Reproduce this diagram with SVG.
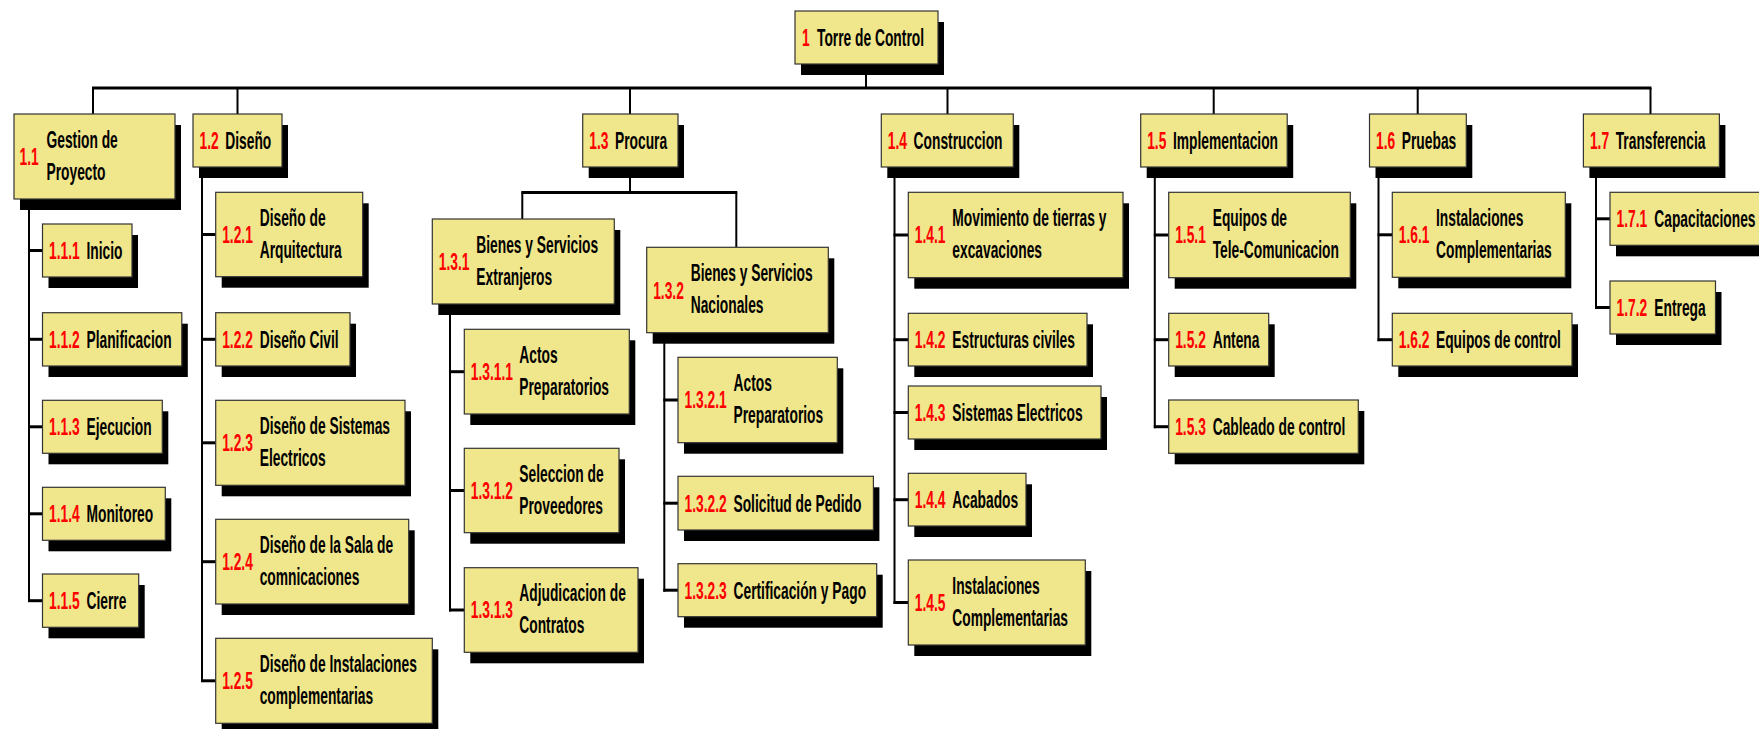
<svg xmlns="http://www.w3.org/2000/svg" width="1759" height="729" viewBox="0 0 1759 729">
  <style>
    .bx { fill: #F0E68C; stroke: #333; stroke-width: 1.2; }
    .sh { fill: #000; }
    .num { font-family: "Liberation Sans", Arial, sans-serif; font-size: 23px; font-weight: bold; fill: #FF0000; }
    .lbl { font-family: "Liberation Sans", Arial, sans-serif; font-size: 23px; font-weight: bold; fill: #000; }
    .h { stroke: #000; stroke-width: 3; fill: none; }
    .v { stroke: #000; stroke-width: 2; fill: none; }
  </style>

  <!-- connectors -->
  <g id="connectors">
    <!-- root to level 1 -->
    <line class="v" x1="866" y1="64" x2="866" y2="88"/>
    <line class="h" x1="92" y1="88" x2="1651.5" y2="88"/>
    <line class="v" x1="93" y1="88" x2="93" y2="114"/>
    <line class="v" x1="237.5" y1="88" x2="237.5" y2="114"/>
    <line class="v" x1="630" y1="88" x2="630" y2="114"/>
    <line class="v" x1="947.5" y1="88" x2="947.5" y2="114"/>
    <line class="v" x1="1213.7" y1="88" x2="1213.7" y2="114"/>
    <line class="v" x1="1417.7" y1="88" x2="1417.7" y2="114"/>
    <line class="v" x1="1650.5" y1="88" x2="1650.5" y2="114"/>

    <!-- 1.1 -->
    <line class="v" x1="29" y1="199" x2="29" y2="602"/>
    <line class="h" x1="28" y1="250.5" x2="42.5" y2="250.5"/>
    <line class="h" x1="28" y1="339.3" x2="42.5" y2="339.3"/>
    <line class="h" x1="28" y1="426.8" x2="42.5" y2="426.8"/>
    <line class="h" x1="28" y1="513.8" x2="42.5" y2="513.8"/>
    <line class="h" x1="28" y1="600.7" x2="42.5" y2="600.7"/>

    <!-- 1.2 -->
    <line class="v" x1="202" y1="167" x2="202" y2="682"/>
    <line class="h" x1="201" y1="234.5" x2="215.7" y2="234.5"/>
    <line class="h" x1="201" y1="339.3" x2="215.7" y2="339.3"/>
    <line class="h" x1="201" y1="442.8" x2="215.7" y2="442.8"/>
    <line class="h" x1="201" y1="561.7" x2="215.7" y2="561.7"/>
    <line class="h" x1="201" y1="680.8" x2="215.7" y2="680.8"/>

    <!-- 1.3 -->
    <line class="v" x1="630" y1="167" x2="630" y2="192.5"/>
    <line class="h" x1="521.3" y1="192.5" x2="737.3" y2="192.5"/>
    <line class="v" x1="522.3" y1="192.5" x2="522.3" y2="219"/>
    <line class="v" x1="736.3" y1="192.5" x2="736.3" y2="247.3"/>
    <line class="v" x1="450" y1="304" x2="450" y2="611.5"/>
    <line class="h" x1="449" y1="371.7" x2="464.3" y2="371.7"/>
    <line class="h" x1="449" y1="490.5" x2="464.3" y2="490.5"/>
    <line class="h" x1="449" y1="610" x2="464.3" y2="610"/>
    <line class="v" x1="664.3" y1="332.7" x2="664.3" y2="591.7"/>
    <line class="h" x1="663.3" y1="400" x2="678" y2="400"/>
    <line class="h" x1="663.3" y1="503.2" x2="678" y2="503.2"/>
    <line class="h" x1="663.3" y1="590.2" x2="678" y2="590.2"/>

    <!-- 1.4 -->
    <line class="v" x1="894.5" y1="167" x2="894.5" y2="604"/>
    <line class="h" x1="893.5" y1="235" x2="908.3" y2="235"/>
    <line class="h" x1="893.5" y1="339.7" x2="908.3" y2="339.7"/>
    <line class="h" x1="893.5" y1="412.5" x2="908.3" y2="412.5"/>
    <line class="h" x1="893.5" y1="499.7" x2="908.3" y2="499.7"/>
    <line class="h" x1="893.5" y1="602.5" x2="908.3" y2="602.5"/>

    <!-- 1.5 -->
    <line class="v" x1="1154.8" y1="167" x2="1154.8" y2="428.2"/>
    <line class="h" x1="1153.8" y1="235" x2="1168.7" y2="235"/>
    <line class="h" x1="1153.8" y1="339.7" x2="1168.7" y2="339.7"/>
    <line class="h" x1="1153.8" y1="426.7" x2="1168.7" y2="426.7"/>

    <!-- 1.6 -->
    <line class="v" x1="1378.5" y1="167" x2="1378.5" y2="341.2"/>
    <line class="h" x1="1377.5" y1="234.8" x2="1392.3" y2="234.8"/>
    <line class="h" x1="1377.5" y1="339.7" x2="1392.3" y2="339.7"/>

    <!-- 1.7 -->
    <line class="v" x1="1596" y1="167" x2="1596" y2="309"/>
    <line class="h" x1="1595" y1="218.8" x2="1610" y2="218.8"/>
    <line class="h" x1="1595" y1="307.5" x2="1610" y2="307.5"/>
  </g>

  <!-- root -->
  <g id="n1">
    <rect class="sh" x="801" y="22" width="143" height="53"/>
    <rect class="bx" x="795" y="11" width="143" height="53"/>
    <text class="num" transform="translate(802,45.9) scale(0.6,1)">1</text>
    <text class="lbl" transform="translate(817,45.9) scale(0.6,1)">Torre de Control</text>
  </g>

  <!-- level 1 -->
  <g id="n1-1">
    <rect class="sh" x="20" y="125" width="161" height="85"/>
    <rect class="bx" x="14" y="114" width="161" height="85"/>
    <text class="num" transform="translate(19.5,165) scale(0.6,1)">1.1</text>
    <text class="lbl" transform="translate(46.5,147.5) scale(0.6,1)">Gestion de<tspan x="0" dy="32.5">Proyecto</tspan></text>
  </g>
  <g id="n1-2">
    <rect class="sh" x="199" y="125" width="89" height="53"/>
    <rect class="bx" x="193" y="114" width="89" height="53"/>
    <text class="num" transform="translate(199.5,149) scale(0.6,1)">1.2</text>
    <text class="lbl" transform="translate(225.3,149) scale(0.6,1)">Diseño</text>
  </g>
  <g id="n1-3">
    <rect class="sh" x="588.7" y="125" width="95.3" height="53"/>
    <rect class="bx" x="582.7" y="114" width="95.3" height="53"/>
    <text class="num" transform="translate(589.3,149) scale(0.6,1)">1.3</text>
    <text class="lbl" transform="translate(615,149) scale(0.6,1)">Procura</text>
  </g>
  <g id="n1-4">
    <rect class="sh" x="887.3" y="125" width="132" height="53"/>
    <rect class="bx" x="881.3" y="114" width="132" height="53"/>
    <text class="num" transform="translate(887.8,149) scale(0.6,1)">1.4</text>
    <text class="lbl" transform="translate(913.6,149) scale(0.6,1)">Construccion</text>
  </g>
  <g id="n1-5">
    <rect class="sh" x="1146.7" y="125" width="146.5" height="53"/>
    <rect class="bx" x="1140.7" y="114" width="146.5" height="53"/>
    <text class="num" transform="translate(1147.2,149) scale(0.6,1)">1.5</text>
    <text class="lbl" transform="translate(1173,149) scale(0.6,1)">Implementacion</text>
  </g>
  <g id="n1-6">
    <rect class="sh" x="1375.5" y="125" width="96.8" height="53"/>
    <rect class="bx" x="1369.5" y="114" width="96.8" height="53"/>
    <text class="num" transform="translate(1376,149) scale(0.6,1)">1.6</text>
    <text class="lbl" transform="translate(1401.8,149) scale(0.6,1)">Pruebas</text>
  </g>
  <g id="n1-7">
    <rect class="sh" x="1589.4" y="125" width="136" height="53"/>
    <rect class="bx" x="1583.4" y="114" width="136" height="53"/>
    <text class="num" transform="translate(1589.9,149) scale(0.6,1)">1.7</text>
    <text class="lbl" transform="translate(1615.7,149) scale(0.6,1)">Transferencia</text>
  </g>

  <!-- 1.1 children -->
  <g id="n1-1-1">
    <rect class="sh" x="48.5" y="235" width="89.5" height="53"/>
    <rect class="bx" x="42.5" y="224" width="89.5" height="53"/>
    <text class="num" transform="translate(49,259) scale(0.6,1)">1.1.1</text>
    <text class="lbl" transform="translate(86.5,259) scale(0.6,1)">Inicio</text>
  </g>
  <g id="n1-1-2">
    <rect class="sh" x="48.5" y="323.7" width="139.3" height="53.3"/>
    <rect class="bx" x="42.5" y="312.7" width="139.3" height="53.3"/>
    <text class="num" transform="translate(49,347.7) scale(0.6,1)">1.1.2</text>
    <text class="lbl" transform="translate(86.5,347.7) scale(0.6,1)">Planificacion</text>
  </g>
  <g id="n1-1-3">
    <rect class="sh" x="48.5" y="411.3" width="119.8" height="53"/>
    <rect class="bx" x="42.5" y="400.3" width="119.8" height="53"/>
    <text class="num" transform="translate(49,435.2) scale(0.6,1)">1.1.3</text>
    <text class="lbl" transform="translate(86.5,435.2) scale(0.6,1)">Ejecucion</text>
  </g>
  <g id="n1-1-4">
    <rect class="sh" x="48.5" y="498.3" width="122.8" height="53"/>
    <rect class="bx" x="42.5" y="487.3" width="122.8" height="53"/>
    <text class="num" transform="translate(49,522.2) scale(0.6,1)">1.1.4</text>
    <text class="lbl" transform="translate(86.5,522.2) scale(0.6,1)">Monitoreo</text>
  </g>
  <g id="n1-1-5">
    <rect class="sh" x="48.5" y="585" width="96.2" height="53.3"/>
    <rect class="bx" x="42.5" y="574" width="96.2" height="53.3"/>
    <text class="num" transform="translate(49,609) scale(0.6,1)">1.1.5</text>
    <text class="lbl" transform="translate(86.5,609) scale(0.6,1)">Cierre</text>
  </g>

  <!-- 1.2 children -->
  <g id="n1-2-1">
    <rect class="sh" x="221.7" y="203.3" width="147" height="84.4"/>
    <rect class="bx" x="215.7" y="192.3" width="147" height="84.4"/>
    <text class="num" transform="translate(222.2,243) scale(0.6,1)">1.2.1</text>
    <text class="lbl" transform="translate(259.7,225.5) scale(0.6,1)">Diseño de<tspan x="0" dy="32.5">Arquitectura</tspan></text>
  </g>
  <g id="n1-2-2">
    <rect class="sh" x="221.7" y="323.7" width="134.3" height="53.3"/>
    <rect class="bx" x="215.7" y="312.7" width="134.3" height="53.3"/>
    <text class="num" transform="translate(222.2,347.7) scale(0.6,1)">1.2.2</text>
    <text class="lbl" transform="translate(259.7,347.7) scale(0.6,1)">Diseño Civil</text>
  </g>
  <g id="n1-2-3">
    <rect class="sh" x="221.7" y="411.3" width="189.3" height="85"/>
    <rect class="bx" x="215.7" y="400.3" width="189.3" height="85"/>
    <text class="num" transform="translate(222.2,451.2) scale(0.6,1)">1.2.3</text>
    <text class="lbl" transform="translate(259.7,434) scale(0.6,1)">Diseño de Sistemas<tspan x="0" dy="32.5">Electricos</tspan></text>
  </g>
  <g id="n1-2-4">
    <rect class="sh" x="221.7" y="530.3" width="193" height="84.7"/>
    <rect class="bx" x="215.7" y="519.3" width="193" height="84.7"/>
    <text class="num" transform="translate(222.2,570) scale(0.6,1)">1.2.4</text>
    <text class="lbl" transform="translate(259.7,552.7) scale(0.6,1)">Diseño de la Sala de<tspan x="0" dy="32.5">comnicaciones</tspan></text>
  </g>
  <g id="n1-2-5">
    <rect class="sh" x="221.7" y="649.3" width="216.6" height="85"/>
    <rect class="bx" x="215.7" y="638.3" width="216.6" height="85"/>
    <text class="num" transform="translate(222.2,689.2) scale(0.6,1)">1.2.5</text>
    <text class="lbl" transform="translate(259.7,671.8) scale(0.6,1)">Diseño de Instalaciones<tspan x="0" dy="32.5">complementarias</tspan></text>
  </g>

  <!-- 1.3 children -->
  <g id="n1-3-1">
    <rect class="sh" x="438.3" y="230" width="182" height="85"/>
    <rect class="bx" x="432.3" y="219" width="182" height="85"/>
    <text class="num" transform="translate(438.8,270) scale(0.6,1)">1.3.1</text>
    <text class="lbl" transform="translate(476.3,252.5) scale(0.6,1)">Bienes y Servicios<tspan x="0" dy="32.5">Extranjeros</tspan></text>
  </g>
  <g id="n1-3-2">
    <rect class="sh" x="652.7" y="258.3" width="181.6" height="85.4"/>
    <rect class="bx" x="646.7" y="247.3" width="181.6" height="85.4"/>
    <text class="num" transform="translate(653.2,298.5) scale(0.6,1)">1.3.2</text>
    <text class="lbl" transform="translate(690.7,281) scale(0.6,1)">Bienes y Servicios<tspan x="0" dy="32.5">Nacionales</tspan></text>
  </g>
  <g id="n1-3-1-1">
    <rect class="sh" x="470.3" y="340.3" width="165" height="84.7"/>
    <rect class="bx" x="464.3" y="329.3" width="165" height="84.7"/>
    <text class="num" transform="translate(470.8,380) scale(0.6,1)">1.3.1.1</text>
    <text class="lbl" transform="translate(519.3,362.7) scale(0.6,1)">Actos<tspan x="0" dy="32.5">Preparatorios</tspan></text>
  </g>
  <g id="n1-3-1-2">
    <rect class="sh" x="470.3" y="459.3" width="154.7" height="84.4"/>
    <rect class="bx" x="464.3" y="448.3" width="154.7" height="84.4"/>
    <text class="num" transform="translate(470.8,499) scale(0.6,1)">1.3.1.2</text>
    <text class="lbl" transform="translate(519.3,481.5) scale(0.6,1)">Seleccion de<tspan x="0" dy="32.5">Proveedores</tspan></text>
  </g>
  <g id="n1-3-1-3">
    <rect class="sh" x="470.3" y="578.7" width="173.7" height="84.6"/>
    <rect class="bx" x="464.3" y="567.7" width="173.7" height="84.6"/>
    <text class="num" transform="translate(470.8,618.4) scale(0.6,1)">1.3.1.3</text>
    <text class="lbl" transform="translate(519.3,601) scale(0.6,1)">Adjudicacion de<tspan x="0" dy="32.5">Contratos</tspan></text>
  </g>
  <g id="n1-3-2-1">
    <rect class="sh" x="684" y="368.3" width="159.3" height="85.4"/>
    <rect class="bx" x="678" y="357.3" width="159.3" height="85.4"/>
    <text class="num" transform="translate(684.5,408.4) scale(0.6,1)">1.3.2.1</text>
    <text class="lbl" transform="translate(733.5,391) scale(0.6,1)">Actos<tspan x="0" dy="32.5">Preparatorios</tspan></text>
  </g>
  <g id="n1-3-2-2">
    <rect class="sh" x="684" y="487.3" width="195.4" height="53.7"/>
    <rect class="bx" x="678" y="476.3" width="195.4" height="53.7"/>
    <text class="num" transform="translate(684.5,511.6) scale(0.6,1)">1.3.2.2</text>
    <text class="lbl" transform="translate(733.5,511.6) scale(0.6,1)">Solicitud de Pedido</text>
  </g>
  <g id="n1-3-2-3">
    <rect class="sh" x="684" y="574.7" width="198.7" height="53"/>
    <rect class="bx" x="678" y="563.7" width="198.7" height="53"/>
    <text class="num" transform="translate(684.5,598.6) scale(0.6,1)">1.3.2.3</text>
    <text class="lbl" transform="translate(733.5,598.6) scale(0.6,1)">Certificación y Pago</text>
  </g>

  <!-- 1.4 children -->
  <g id="n1-4-1">
    <rect class="sh" x="914.3" y="203.3" width="214.7" height="85.4"/>
    <rect class="bx" x="908.3" y="192.3" width="214.7" height="85.4"/>
    <text class="num" transform="translate(914.8,243.4) scale(0.6,1)">1.4.1</text>
    <text class="lbl" transform="translate(952.3,226) scale(0.6,1)">Movimiento de tierras y<tspan x="0" dy="32.5">excavaciones</tspan></text>
  </g>
  <g id="n1-4-2">
    <rect class="sh" x="914.3" y="324.3" width="178.7" height="52.7"/>
    <rect class="bx" x="908.3" y="313.3" width="178.7" height="52.7"/>
    <text class="num" transform="translate(914.8,348) scale(0.6,1)">1.4.2</text>
    <text class="lbl" transform="translate(952.3,348) scale(0.6,1)">Estructuras civiles</text>
  </g>
  <g id="n1-4-3">
    <rect class="sh" x="914.3" y="397" width="192.7" height="53"/>
    <rect class="bx" x="908.3" y="386" width="192.7" height="53"/>
    <text class="num" transform="translate(914.8,420.9) scale(0.6,1)">1.4.3</text>
    <text class="lbl" transform="translate(952.3,420.9) scale(0.6,1)">Sistemas Electricos</text>
  </g>
  <g id="n1-4-4">
    <rect class="sh" x="914.3" y="484.3" width="117.7" height="52.7"/>
    <rect class="bx" x="908.3" y="473.3" width="117.7" height="52.7"/>
    <text class="num" transform="translate(914.8,508) scale(0.6,1)">1.4.4</text>
    <text class="lbl" transform="translate(952.3,508) scale(0.6,1)">Acabados</text>
  </g>
  <g id="n1-4-5">
    <rect class="sh" x="914.3" y="571" width="177" height="85"/>
    <rect class="bx" x="908.3" y="560" width="177" height="85"/>
    <text class="num" transform="translate(914.8,611) scale(0.6,1)">1.4.5</text>
    <text class="lbl" transform="translate(952.3,593.5) scale(0.6,1)">Instalaciones<tspan x="0" dy="32.5">Complementarias</tspan></text>
  </g>

  <!-- 1.5 children -->
  <g id="n1-5-1">
    <rect class="sh" x="1174.7" y="203.3" width="181.6" height="85.4"/>
    <rect class="bx" x="1168.7" y="192.3" width="181.6" height="85.4"/>
    <text class="num" transform="translate(1175.2,243.4) scale(0.6,1)">1.5.1</text>
    <text class="lbl" transform="translate(1212.7,226) scale(0.6,1)">Equipos de<tspan x="0" dy="32.5">Tele-Comunicacion</tspan></text>
  </g>
  <g id="n1-5-2">
    <rect class="sh" x="1174.7" y="324.3" width="100" height="52.7"/>
    <rect class="bx" x="1168.7" y="313.3" width="100" height="52.7"/>
    <text class="num" transform="translate(1175.2,348) scale(0.6,1)">1.5.2</text>
    <text class="lbl" transform="translate(1212.7,348) scale(0.6,1)">Antena</text>
  </g>
  <g id="n1-5-3">
    <rect class="sh" x="1174.7" y="411" width="189.6" height="53.3"/>
    <rect class="bx" x="1168.7" y="400" width="189.6" height="53.3"/>
    <text class="num" transform="translate(1175.2,435) scale(0.6,1)">1.5.3</text>
    <text class="lbl" transform="translate(1212.7,435) scale(0.6,1)">Cableado de control</text>
  </g>

  <!-- 1.6 children -->
  <g id="n1-6-1">
    <rect class="sh" x="1398.3" y="203.3" width="173" height="85"/>
    <rect class="bx" x="1392.3" y="192.3" width="173" height="85"/>
    <text class="num" transform="translate(1398.8,243.2) scale(0.6,1)">1.6.1</text>
    <text class="lbl" transform="translate(1436,225.8) scale(0.6,1)">Instalaciones<tspan x="0" dy="32.5">Complementarias</tspan></text>
  </g>
  <g id="n1-6-2">
    <rect class="sh" x="1398.3" y="324.3" width="179.7" height="52.7"/>
    <rect class="bx" x="1392.3" y="313.3" width="179.7" height="52.7"/>
    <text class="num" transform="translate(1398.8,348) scale(0.6,1)">1.6.2</text>
    <text class="lbl" transform="translate(1436,348) scale(0.6,1)">Equipos de control</text>
  </g>

  <!-- 1.7 children -->
  <g id="n1-7-1">
    <rect class="sh" x="1616" y="203.3" width="155" height="53"/>
    <rect class="bx" x="1610" y="192.3" width="155" height="53"/>
    <text class="num" transform="translate(1616.5,227.2) scale(0.6,1)">1.7.1</text>
    <text class="lbl" transform="translate(1654.3,227.2) scale(0.6,1)">Capacitaciones</text>
  </g>
  <g id="n1-7-2">
    <rect class="sh" x="1616" y="292" width="105.5" height="53"/>
    <rect class="bx" x="1610" y="281" width="105.5" height="53"/>
    <text class="num" transform="translate(1616.5,315.9) scale(0.6,1)">1.7.2</text>
    <text class="lbl" transform="translate(1654.3,315.9) scale(0.6,1)">Entrega</text>
  </g>
</svg>
